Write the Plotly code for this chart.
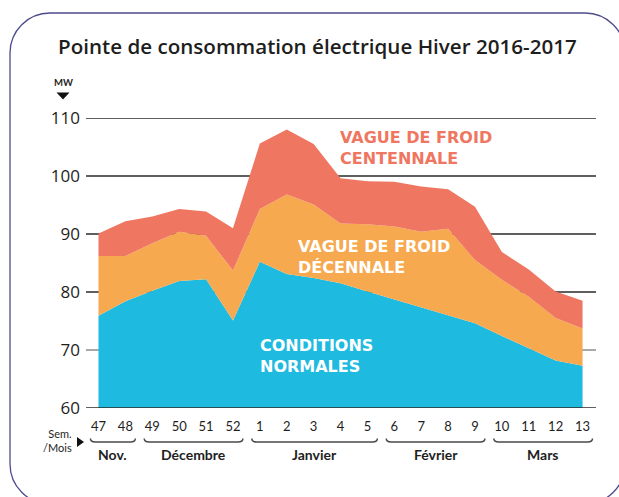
import plotly.graph_objects as go

# ---- data ----
weeks = ["47", "48", "49", "50", "51", "52", "1", "2", "3", "4", "5",
         "6", "7", "8", "9", "10", "11", "12", "13"]
normal = [75.9, 78.4, 80.2, 81.9, 82.2, 75.1, 85.2, 83.1, 82.4, 81.5, 80.1,
          78.7, 77.4, 75.9, 74.6, 72.4, 70.3, 68.2, 67.3]
decennale = [86.2, 86.2, 88.4, 90.4, 89.7, 83.7, 94.3, 96.8, 95.1, 91.8, 91.7,
             91.3, 90.4, 90.9, 85.5, 82.1, 79.2, 75.5, 73.7]
centennale = [90.1, 92.2, 93.0, 94.3, 93.9, 91.0, 105.6, 108.0, 105.5, 99.6, 99.1,
              99.0, 98.2, 97.7, 94.7, 86.9, 83.9, 80.1, 78.5]
months = ["Nov.", "Décembre", "Janvier", "Février", "Mars"]
month_weeks = [["47", "48"], ["49", "50", "51", "52"], ["1", "2", "3", "4", "5"],
               ["6", "7", "8", "9"], ["10", "11", "12", "13"]]
y_ticks = [60, 70, 80, 90, 100, 110]

BLUE = "#1fbadf"
ORANGE = "#f6a94f"
RED = "#ef7660"
INK = "#1e1e1e"

W, H = 619, 497
ML, MR, MT, MB = 86, 23, 118, 89
PW, PH = W - ML - MR, H - MT - MB


def px(xp):
    return (xp - ML) / PW


def py(yp):
    return (H - MB - yp) / PH


xs = list(range(len(weeks)))
fig = go.Figure()
fig.add_trace(go.Scatter(x=xs, y=normal, mode="lines", line=dict(width=0, color=BLUE),
                         fill="tozeroy", fillcolor=BLUE, hoverinfo="skip", showlegend=False))
fig.add_trace(go.Scatter(x=xs, y=decennale, mode="lines", line=dict(width=0, color=ORANGE),
                         fill="tonexty", fillcolor=ORANGE, hoverinfo="skip", showlegend=False))
fig.add_trace(go.Scatter(x=xs, y=centennale, mode="lines", line=dict(width=0, color=RED),
                         fill="tonexty", fillcolor=RED, hoverinfo="skip", showlegend=False))

shapes = []
for v in y_ticks:
    shapes.append(dict(type="line", xref="paper", yref="y", x0=0, x1=1, y0=v, y1=v,
                       line=dict(color="#8c8c8c" if v == 70 else "#2a2a2a", width=1.3),
                       layer="above" if v == 60 else "below"))

# month brackets
annotations = []
yl, yt = py(442), py(438.5)
for name, wk in zip(months, month_weeks):
    a = weeks.index(wk[0]) - 0.3
    b = weeks.index(wk[-1]) + 0.37
    d = 0.18
    path = (f"M {a},{yt} Q {a},{yl} {a+d},{yl} L {b-d},{yl} Q {b},{yl} {b},{yt}")
    shapes.append(dict(type="path", xref="x", yref="paper", path=path,
                       line=dict(color="#4a4a4a", width=1.5)))
    annotations.append(dict(x=(a + b) / 2, y=py(454), xref="x", yref="paper",
                            text=f"<b>{name}</b>", showarrow=False,
                            xanchor="center", yanchor="middle",
                            font=dict(family="Lato", size=14, color=INK)))

# triangles
shapes.append(dict(type="path", xref="paper", yref="paper",
                   path=f"M {px(56.5)},{py(92.5)} L {px(69.5)},{py(92.5)} L {px(63)},{py(99.5)} Z",
                   fillcolor="#111", line=dict(width=0)))
shapes.append(dict(type="path", xref="paper", yref="paper",
                   path=f"M {px(77)},{py(437)} L {px(77)},{py(447)} L {px(84)},{py(442)} Z",
                   fillcolor="#111", line=dict(width=0)))

# rounded frame
L_, T_, R_, B_, r = 10, 13, 625, 504, 40
k = 0.5523 * r
pts = [
    ("M", [(L_ + r, T_)]),
    ("L", [(R_ - r, T_)]),
    ("C", [(R_ - r + k, T_), (R_, T_ + r - k), (R_, T_ + r)]),
    ("L", [(R_, B_ - r)]),
    ("C", [(R_, B_ - r + k), (R_ - r + k, B_), (R_ - r, B_)]),
    ("L", [(L_ + r, B_)]),
    ("C", [(L_ + r - k, B_), (L_, B_ - r + k), (L_, B_ - r)]),
    ("L", [(L_, T_ + r)]),
    ("C", [(L_, T_ + r - k), (L_ + r - k, T_), (L_ + r, T_)]),
]
path = " ".join(c + " " + " ".join(f"{px(a)},{py(b)}" for a, b in p) for c, p in pts) + " Z"
shapes.append(dict(type="path", xref="paper", yref="paper", path=path,
                   line=dict(color="#4d4b8c", width=1.3)))


def ann(x, y, text, size, color, anchor="left", family="Lato", bold=True, align="left",
        weight=None):
    font = dict(family=family, size=size, color=color)
    if weight:
        font["weight"] = weight
    annotations.append(dict(x=px(x), y=py(y), xref="paper", yref="paper",
                            text=f"<b>{text}</b>" if bold else text, showarrow=False,
                            xanchor=anchor, yanchor="middle", align=align, font=font))


ann(56, 46, "Pointe de consommation électrique Hiver 2016-2017", 20.6, INK,
    family="Open Sans", bold=False, weight=600)
ann(63, 82.5, "MW", 9.5, INK, anchor="center")
ann(74, 440.5, "Sem.<br>/Mois", 11, INK, anchor="right", bold=False, align="right")

LBL = "DejaVu Sans"
ann(338, 147.5, "VAGUE DE FROID<br>CENTENNALE", 16, RED, family=LBL)
ann(296, 256.5, "VAGUE DE FROID<br>DÉCENNALE", 16, "white", family=LBL)
ann(258, 355.5, "CONDITIONS<br>NORMALES", 16, "white", family=LBL)

fig.update_layout(
    width=W, height=H, autosize=False,
    margin=dict(l=ML, r=MR, t=MT, b=MB, pad=0),
    paper_bgcolor="white", plot_bgcolor="white",
    shapes=shapes, annotations=annotations,
    xaxis=dict(range=[-0.465, 18.5], tickmode="array", tickvals=xs, ticktext=weeks,
               showgrid=False, zeroline=False, showline=False, ticks="",
               ticklabelstandoff=9,
               tickfont=dict(family="Lato", size=13, color=INK)),
    yaxis=dict(range=[60, 110], tickmode="array", tickvals=y_ticks,
               showgrid=False, zeroline=False, showline=False, ticks="",
               ticklabelstandoff=5,
               tickfont=dict(family="Open Sans", size=17, color=INK)),
)

fig.write_html("out.html", config={"displayModeBar": False})
with open("out.html", encoding="utf-8") as f:
    html = f.read()
html = html.replace("<head>", "<head><style>html,body{margin:0;padding:0;overflow:hidden}</style>", 1)
with open("out.html", "w", encoding="utf-8") as f:
    f.write(html)
